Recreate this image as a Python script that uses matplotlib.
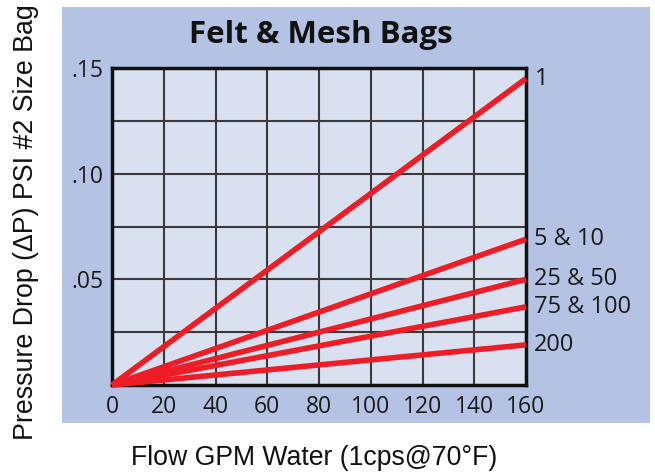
import numpy as np
import matplotlib
matplotlib.use("Agg")
import matplotlib.pyplot as plt
from matplotlib.patches import Rectangle

# ── data ──────────────────────────────────────────────────────────────────────
bag_labels = ["1", "5 & 10", "25 & 50", "75 & 100", "200"]
flow_gpm = [0, 160]
dp_at_160 = [0.145, 0.069, 0.050, 0.037, 0.019]   # psi at 160 GPM, linear from 0

x_ticks = [0, 20, 40, 60, 80, 100, 120, 140, 160]
y_ticks = [0.025, 0.05, 0.075, 0.10, 0.125, 0.15]
y_tick_labels = ["", ".05", "", ".10", "", ".15"]

# ── figure ────────────────────────────────────────────────────────────────────
W, H = 655, 476
fig = plt.figure(figsize=(W / 100, H / 100), dpi=100)
fig.patch.set_facecolor("white")

# blue panel behind the chart
fig.patches.append(Rectangle((62 / W, 1 - 423 / H), (650 - 62) / W, (423 - 7) / H,
                             transform=fig.transFigure, facecolor="#b4c3e4",
                             edgecolor="none", zorder=-5))

ax = fig.add_axes([112 / W, 1 - 385 / H, 414 / W, 317 / H])
ax.set_facecolor("#d9e0ef")
ax.set_xlim(0, 160)
ax.set_ylim(0, 0.15)

ax.set_xticks(x_ticks)
ax.set_xticklabels([str(t) for t in x_ticks])
ax.set_yticks(y_ticks)
ax.set_yticklabels(y_tick_labels)
ax.tick_params(length=0, labelsize=16.5, labelcolor="#1a1a1a")
ax.tick_params(axis="x", pad=7)
ax.tick_params(axis="y", pad=6)
for lab in ax.get_xticklabels() + ax.get_yticklabels():
    lab.set_fontfamily("Open Sans")

ax.grid(True, color="#3a3a3a", linewidth=1.5)
ax.set_axisbelow(True)
for sp in ax.spines.values():
    sp.set_linewidth(2.5)
    sp.set_color("#111111")

for lab, v in zip(bag_labels, dp_at_160):
    ax.plot(flow_gpm, [0, v], color="#ee1c25", linewidth=4, solid_capstyle="butt",
            zorder=3, clip_on=False)
    ax.annotate(lab, xy=(160, v), xytext=(6, 0), textcoords="offset points",
                va="center", ha="left", fontsize=17, color="#1a1a1a",
                family="Open Sans", annotation_clip=False)

fig.text(321 / W, 1 - 35 / H, "Felt & Mesh Bags", ha="center", va="center",
         fontsize=22.5, fontweight="bold", color="#111111", family="Open Sans")

fig.text(26 / W, 1 - 222 / H, "Pressure Drop (ΔP) PSI #2 Size Bag", rotation=90,
         ha="center", va="center", fontsize=19.3, family="Liberation Sans",
         color="#111111")
fig.text(314 / W, 1 - 458 / H, "Flow GPM Water (1cps@70°F)", ha="center",
         va="center", fontsize=19.2, family="Liberation Sans", color="#111111")

fig.savefig("out.png", dpi=100)
